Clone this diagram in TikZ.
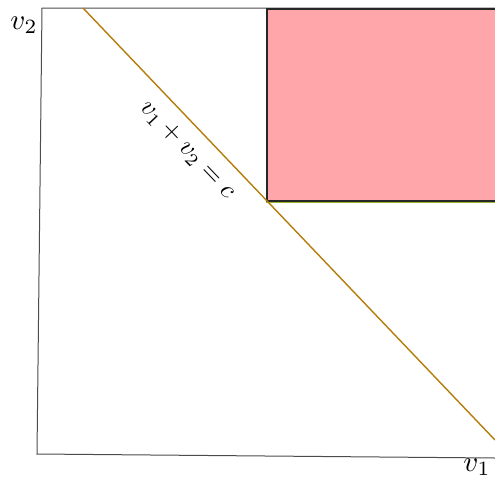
\documentclass[tikz,border=0pt]{standalone}
\begin{document}
\begin{tikzpicture}[x=1pt,y=-1pt,
  axisline/.style={draw=black!70,line width=1pt},
  budget/.style={draw={rgb,255:red,180;green,125;blue,10},line width=1.4pt},
  region/.style={fill={rgb,255:red,255;green,166;blue,170}},
  lbl/.style={inner sep=0pt}]
\useasboundingbox (0,0) rectangle (495,480);
\coordinate (tl) at (42,8);
\coordinate (bl) at (37,454);
\coordinate (br) at (495,458);
\coordinate (tr) at (495,8);
\draw[axisline] (tr) -- (tl) -- (bl) -- (br);
% feasible region
\coordinate (r1) at (267,9);
\coordinate (r2) at (495,201);
\fill[region] (r1) rectangle (r2);
\draw[draw={rgb,255:red,150;green,180;blue,50},line width=1pt] (266,9) -- (266,202) -- (495,202);
\draw[draw=black!85,line width=1.2pt] (495,9) -- (267,9) -- (267,201) -- (495,201);
% budget line
\coordinate (la) at (83,8);
\coordinate (lb) at (495,440);
\draw[budget] (la) -- (lb);
\node[lbl,rotate=-46.3] (eq) at (187,150) {\scalebox{2.6}{$v_1+v_2=c$}};
\node[lbl] (v2) at (24,25) {\scalebox{2.9}{$v_2$}};
\node[lbl] (v1) at (477,467) {\scalebox{2.9}{$v_1$}};
\end{tikzpicture}
\end{document}
